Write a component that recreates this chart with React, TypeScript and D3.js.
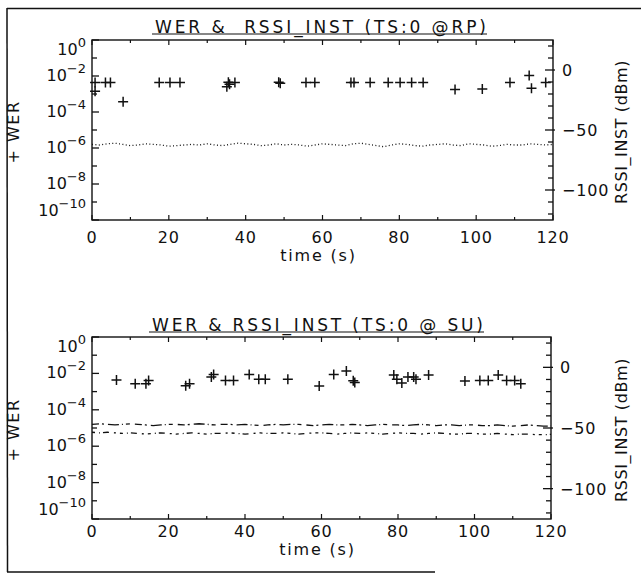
import React from "react";
import * as d3 from "d3";

// ---------- data ----------
const xTicks = [0, 20, 40, 60, 80, 100, 120];
const werTickExps = [0, -2, -4, -6, -8, -10];
const rssiTickLabels = [0, -50, -100];

const topTitle = "WER &  RSSI_INST (TS:0 @RP)";
const botTitle = "WER & RSSI_INST (TS:0 @ SU)";

const werTopTime = [0.8, 0.8, 3.5, 4.8, 8.1, 17.5, 20.3, 22.9, 35.1, 35.5, 35.8, 37.2, 48.6, 49.0, 55.7, 58.0, 67.4, 68.2, 72.4, 77.1, 80.2, 83.2, 86.2, 94.5, 101.6, 108.8, 113.8, 114.4, 118.1];
const werTopValue = [4.3e-3, 1.4e-3, 4.3e-3, 4.3e-3, 3.7e-4, 4.3e-3, 4.3e-3, 4.3e-3, 2.5e-3, 4.5e-3, 3.5e-3, 4.3e-3, 4.5e-3, 4.0e-3, 4.3e-3, 4.3e-3, 4.3e-3, 4.3e-3, 4.3e-3, 4.3e-3, 4.3e-3, 4.3e-3, 4.3e-3, 1.8e-3, 1.9e-3, 4.3e-3, 1.05e-2, 2.1e-3, 4.3e-3];

const werBotTime = [6.4, 11.3, 14.1, 14.8, 24.5, 25.5, 31.2, 31.8, 34.9, 37.0, 41.1, 43.6, 45.3, 51.2, 59.4, 63.2, 66.5, 68.3, 68.7, 78.9, 79.7, 81.0, 82.6, 84.1, 84.7, 88.0, 97.5, 101.4, 103.6, 106.2, 108.4, 110.5, 112.1];
const werBotValue = [4.3e-3, 2.7e-3, 2.7e-3, 4.1e-3, 2.1e-3, 2.7e-3, 6.3e-3, 8.7e-3, 4.1e-3, 4.1e-3, 8.7e-3, 4.7e-3, 4.7e-3, 4.7e-3, 2.0e-3, 8.7e-3, 1.35e-2, 4.0e-3, 3.2e-3, 8.1e-3, 4.7e-3, 3.0e-3, 6.3e-3, 6.3e-3, 4.7e-3, 8.1e-3, 3.8e-3, 4.1e-3, 4.1e-3, 8.1e-3, 4.1e-3, 4.1e-3, 2.7e-3];

// RSSI sampled every 2 s from 0 to 120 s
const rssiTime = [0, 2, 4, 6, 8, 10, 12, 14, 16, 18, 20, 22, 24, 26, 28, 30, 32, 34, 36, 38, 40, 42, 44, 46, 48, 50, 52, 54, 56, 58, 60, 62, 64, 66, 68, 70, 72, 74, 76, 78, 80, 82, 84, 86, 88, 90, 92, 94, 96, 98, 100, 102, 104, 106, 108, 110, 112, 114, 116, 118, 120];
const rssiTop = [-62, -62.5, -61.5, -61, -62, -63, -62.5, -61.5, -62, -62.5, -63.5, -63, -62.5, -62, -62.5, -61.5, -62.5, -63, -62, -61, -61.5, -62, -63, -62.5, -61.5, -62.5, -62, -62.5, -63.5, -62.5, -61.5, -62, -62.5, -63, -61.5, -61, -62, -63, -64, -62.5, -61.5, -62, -63, -63.5, -62.5, -62, -61.5, -62.5, -63, -61.5, -62, -62.5, -63.5, -63, -62, -62.5, -62.5, -61.5, -62, -62.5, -62];
const rssiBotA = [-47, -46.5, -47, -47.5, -47, -46.5, -47, -47.5, -48, -47.5, -47, -47, -47.5, -47, -46.5, -47, -47.5, -47, -47, -47.5, -47, -47.5, -48, -47.5, -47, -47.5, -47, -47, -47.5, -48, -47.5, -47, -47.5, -47.5, -47, -47.5, -48, -47.5, -47, -47.5, -47.5, -48, -47.5, -47, -47.5, -48, -47.5, -47.5, -48, -47.5, -47.5, -48, -48, -47.5, -48, -48.5, -48, -47.5, -48, -48.5, -48.3];
const rssiBotB = [-53.5, -54, -53.5, -54, -54.5, -54, -54.5, -55, -54.5, -54, -54.5, -55, -54.5, -54, -54.5, -55, -54.5, -54.5, -54, -54.5, -55, -54.5, -54, -54.5, -54.5, -54, -54.5, -55, -54.5, -54, -54, -54.5, -55, -54.5, -54, -54.5, -54, -54.5, -55, -54.5, -54, -54.5, -54.5, -55, -54.5, -54, -54.5, -55, -55, -54.5, -54.5, -55, -55, -54.5, -55, -55.5, -55, -55, -55.5, -55.5, -55.3];

// ---------- drawing ----------
const FONT = "DejaVu Sans";
const INK = "#111";

type Cfg = { top: number; bottom: number; left: number; right: number; titleY: number; titleX: number; titleW: number; tickLabelY: number; xLabelY: number };

function Panel({ cfg, title, werT, werV, rssi, dashes }: { cfg: Cfg; title: string; werT: number[]; werV: number[]; rssi: number[][]; dashes: string[] }) {
  const x = d3.scaleLinear().domain([0, 120]).range([cfg.left, cfg.right]);
  const yW = d3.scaleLog().domain([1e-10, 1]).range([cfg.bottom, cfg.top]);
  const yR = d3.scaleLinear().domain([-125, 25]).range([cfg.bottom, cfg.top]);
  const line = d3
    .line<number>()
    .x((_, i) => x(rssiTime[i]))
    .y((d) => yR(d))
    .curve(d3.curveLinear);

  const decades = d3.range(0, 11);
  const rTicks = d3.range(-120, 21, 10);
  const xMinor = d3.range(0, 121, 10);
  const midX = (cfg.left + cfg.right) / 2;
  const midY = (cfg.top + cfg.bottom) / 2;

  return (
    <g>
      {/* title */}
      <text x={cfg.titleX} y={cfg.titleY} fontFamily={FONT} fontSize={17} fill={INK} textLength={cfg.titleW} lengthAdjust="spacing" style={{ whiteSpace: "pre" }}>
        {title}
      </text>
      <line x1={cfg.titleX - 3} x2={cfg.titleX + cfg.titleW + 1} y1={cfg.titleY + 1} y2={cfg.titleY + 1} stroke={INK} strokeWidth={1.2} />

      {/* frame */}
      <rect x={cfg.left} y={cfg.top} width={cfg.right - cfg.left} height={cfg.bottom - cfg.top} fill="none" stroke={INK} strokeWidth={1.4} />

      {/* left log ticks */}
      {decades.map((k) => {
        const yy = yW(Math.pow(10, -k));
        return <line key={"lt" + k} x1={cfg.left} x2={cfg.left + (k % 2 === 0 ? 7 : 5)} y1={yy} y2={yy} stroke={INK} strokeWidth={1.3} />;
      })}
      {/* right RSSI ticks */}
      {rTicks.map((v) => {
        const yy = yR(v);
        const major = v % 50 === 0;
        return <line key={"rt" + v} x1={cfg.right - (major ? 8 : 5)} x2={cfg.right + (major ? 2 : 0)} y1={yy} y2={yy} stroke={INK} strokeWidth={1.3} />;
      })}
      {/* x ticks */}
      {xMinor.map((t) => {
        const xx = x(t);
        const len = t % 20 === 0 ? 5 : 3;
        return (
          <g key={"xt" + t}>
            <line x1={xx} x2={xx} y1={cfg.bottom} y2={cfg.bottom - len} stroke={INK} strokeWidth={1.2} />
            <line x1={xx} x2={xx} y1={cfg.top} y2={cfg.top + len} stroke={INK} strokeWidth={1.2} />
          </g>
        );
      })}

      {/* left labels */}
      {werTickExps.map((e) => {
        let yy = yW(Math.pow(10, e)) + 5;
        if (e === 0) yy += 10;
        if (e === -10) yy -= 9;
        return (
          <text key={"ll" + e} x={86} y={yy} textAnchor="end" fontFamily={FONT} fontSize={16} fill={INK}>
            <tspan>10</tspan>
            <tspan dy={-8} fontSize={13}>{e === 0 ? "0" : "\u2212" + Math.abs(e)}</tspan>
          </text>
        );
      })}
      {/* right labels */}
      {rssiTickLabels.map((v) => (
        <text key={"rl" + v} x={cfg.right + 9} y={yR(v) + 6} fontFamily={FONT} fontSize={16} fill={INK} letterSpacing={0.8}>
          {v === 0 ? "0" : "\u2212" + Math.abs(v)}
        </text>
      ))}
      {/* x labels */}
      {xTicks.map((t) => (
        <text key={"xl" + t} x={x(t)} y={cfg.tickLabelY} textAnchor="middle" fontFamily={FONT} fontSize={16} fill={INK} letterSpacing={0.8}>
          {t}
        </text>
      ))}
      <text x={midX - 4} y={cfg.xLabelY} textAnchor="middle" fontFamily={FONT} fontSize={16} fill={INK} letterSpacing={1.8} style={{ whiteSpace: "pre" }}>
        time (s)
      </text>
      <text transform={`translate(19,${midY + 2}) rotate(-90)`} textAnchor="middle" fontFamily={FONT} fontSize={16} fill={INK} letterSpacing={1.5} style={{ whiteSpace: "pre" }}>
        + WER
      </text>
      <text transform={`translate(627,${midY + 2}) rotate(-90)`} textAnchor="middle" fontFamily={FONT} fontSize={16} fill={INK} letterSpacing={0.6} style={{ whiteSpace: "pre" }}>
        RSSI_INST (dBm)
      </text>

      {/* RSSI lines */}
      {rssi.map((s, i) => (
        <path key={"rs" + i} d={line(s) || ""} fill="none" stroke={INK} strokeWidth={1.3} strokeDasharray={dashes[i]} />
      ))}

      {/* WER markers */}
      {werT.map((t, i) => {
        const cx = x(t);
        const cy = yW(werV[i]);
        return (
          <path key={"m" + i} d={`M${cx - 5},${cy}H${cx + 5}M${cx},${cy - 5}V${cy + 5}`} stroke={INK} strokeWidth={1.5} fill="none" />
        );
      })}
    </g>
  );
}

export default function App() {
  const topCfg: Cfg = { top: 40, bottom: 220, left: 92, right: 553, titleY: 33, titleX: 155, titleW: 331, tickLabelY: 243, xLabelY: 261 };
  const botCfg: Cfg = { top: 337, bottom: 519, left: 92, right: 551, titleY: 331, titleX: 152, titleW: 331, tickLabelY: 537, xLabelY: 555 };
  return (
    <svg width={641} height={576} style={{ position: "absolute", left: 0, top: 0, background: "#fff" }}>
      <rect x={0} y={0} width={641} height={576} fill="#fff" />
      {/* outer scanned frame */}
      <line x1={7} x2={641} y1={8.5} y2={8.5} stroke={INK} strokeWidth={1.5} />
      <line x1={7} x2={7.5} y1={8} y2={572} stroke={INK} strokeWidth={1.5} />
      <line x1={7} x2={435} y1={572} y2={572} stroke={INK} strokeWidth={1.5} />
      <Panel cfg={topCfg} title={topTitle} werT={werTopTime} werV={werTopValue} rssi={[rssiTop]} dashes={["1 2.4"]} />
      <Panel cfg={botCfg} title={botTitle} werT={werBotTime} werV={werBotValue} rssi={[rssiBotA, rssiBotB]} dashes={["7 3 2 4 11 3 1 3 4 5", "3 4 1 3 6 5 2 4"]} />
    </svg>
  );
}
